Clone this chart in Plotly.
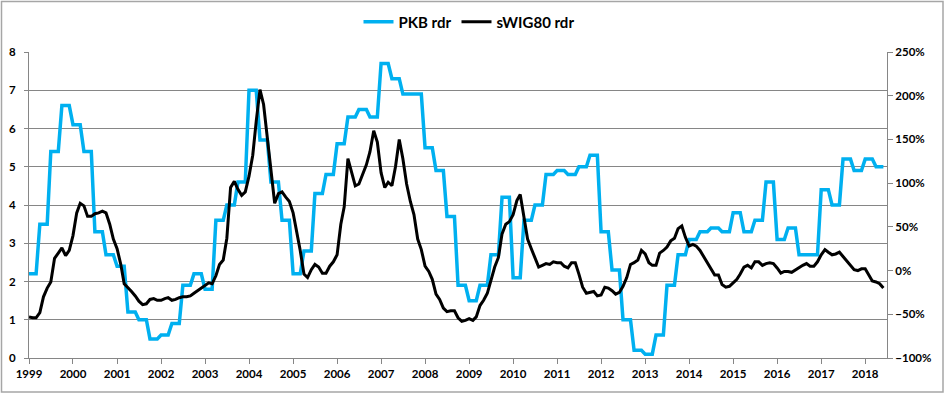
import pandas as pd
import plotly.graph_objects as go

# Quarterly GDP y/y (PKB rdr), 1999Q1 .. 2018Q2, left axis
pkb_quarterly = [
    2.2, 3.5, 5.4, 6.6,   # 1999
    6.1, 5.4, 3.3, 2.7,   # 2000
    2.4, 1.2, 1.0, 0.5,   # 2001
    0.6, 0.9, 1.9, 2.2,   # 2002
    1.8, 3.6, 4.0, 4.6,   # 2003
    7.0, 5.7, 4.6, 3.6,   # 2004
    2.2, 2.8, 4.3, 4.8,   # 2005
    5.6, 6.3, 6.5, 6.3,   # 2006
    7.7, 7.3, 6.9, 6.9,   # 2007
    5.5, 4.9, 3.7, 1.9,   # 2008
    1.5, 1.9, 2.7, 4.2,   # 2009
    2.1, 3.6, 4.0, 4.8,   # 2010
    4.9, 4.8, 5.0, 5.3,   # 2011
    3.3, 2.3, 1.0, 0.2,   # 2012
    0.1, 0.6, 1.9, 2.7,   # 2013
    3.1, 3.3, 3.4, 3.3,   # 2014
    3.8, 3.3, 3.6, 4.6,   # 2015
    3.1, 3.4, 2.7, 2.7,   # 2016
    4.4, 4.0, 5.2, 4.9,   # 2017
    5.2, 5.0,             # 2018
]

# Monthly sWIG80 y/y change in %, Jan 1999 .. Jun 2018, right axis
swig80_monthly = [
    -53, -54, -54, -48, -30, -20, -13, 14, 20, 26, 17, 23,          # 1999
    40, 66, 77, 74, 62, 62, 65, 66, 68, 66, 53, 36,                 # 2000
    25, 7, -15, -19, -24, -29, -35, -39, -38, -33, -32, -34,        # 2001
    -34, -32, -31, -34, -33, -31, -30, -30, -29, -26, -23, -21,     # 2002
    -17, -14, -15, -6, 7, 12, 37, 95, 102, 93, 86, 90,              # 2003
    108, 132, 171, 207, 190, 150, 119, 77, 88, 90, 84, 79,          # 2004
    66, 44, 23, -4, -8, 1, 7, 4, -3, -3, 5, 10,                     # 2005
    18, 53, 73, 128, 114, 97, 99, 110, 121, 136, 160, 147,          # 2006
    112, 95, 101, 97, 119, 150, 128, 99, 79, 64, 36, 24,            # 2007
    5, -1, -10, -27, -33, -43, -47, -46, -46, -54, -58, -57,        # 2008
    -55, -57, -53, -40, -34, -26, -12, 4, 15, 42, 53, 56,           # 2009
    64, 80, 87, 62, 36, 25, 14, 4, 6, 8, 7, 10,                     # 2010
    9, 9, 5, 3, 9, 9, -4, -19, -26, -25, -24, -29,                  # 2011
    -28, -19, -20, -23, -27, -25, -18, -8, 7, 9, 12, 23,            # 2012
    19, 9, 6, 6, 20, 23, 27, 34, 37, 48, 51, 38,                    # 2013
    28, 30, 28, 23, 16, 9, 3, -5, -5, -16, -19, -18,                # 2014
    -14, -10, -4, 4, 6, 3, 10, 10, 6, 8, 9, 8,                      # 2015
    3, -3, -1, -1, -2, 1, 4, 6, 8, 5, 5, 10,                        # 2016
    18, 24, 21, 18, 19, 21, 16, 11, 6, 1, 0, 2,                     # 2017
    2, -5, -12, -13, -15, -20,                                      # 2018
]

year_labels = [str(y) for y in range(1999, 2019)]

months = pd.date_range("1999-01-01", periods=len(swig80_monthly), freq="MS")
pkb_monthly = [v for v in pkb_quarterly for _ in range(3)]

BLUE = "#00B0F0"
GRID = "#868686"
FONT = "Lato"

L, R, T, B = 29, 58, 52, 40
W, H = 945, 398
PW, PH = W - L - R, H - T - B

fig = go.Figure()
fig.add_trace(go.Scatter(
    x=months, y=pkb_monthly, name="PKB rdr", mode="lines",
    line=dict(color=BLUE, width=3.5), yaxis="y",
))
fig.add_trace(go.Scatter(
    x=months, y=swig80_monthly, name="sWIG80 rdr", mode="lines",
    line=dict(color="#000000", width=3), yaxis="y2",
))

tick_font = dict(family=FONT, size=11.5, color="#000000", weight="bold")

fig.update_layout(
    width=W, height=H,
    margin=dict(l=L, r=R, t=T, b=B, autoexpand=False),
    paper_bgcolor="white", plot_bgcolor="white",
    showlegend=True,
    legend=dict(
        orientation="h", x=(469 - L) / PW, xanchor="center",
        y=(H - 22 - B) / PH, yanchor="middle",
        font=dict(family=FONT, size=15, color="#000000", weight="bold"),
        itemwidth=30, bgcolor="rgba(0,0,0,0)",
    ),
    xaxis=dict(
        type="date",
        range=["1999-01-01", "2018-07-01"],
        tickvals=[f"{y}-01-01" for y in year_labels],
        ticktext=year_labels,
        showgrid=False, showline=True, linecolor=GRID, linewidth=1,
        ticks="outside", ticklen=5, tickcolor=GRID,
        tickfont=tick_font, zeroline=False, automargin=False,
    ),
    yaxis=dict(
        range=[0, 8], dtick=1, tick0=0,
        showgrid=True, gridcolor=GRID, gridwidth=1,
        showline=True, linecolor=GRID, linewidth=1,
        ticks="outside", ticklen=4, tickcolor=GRID,
        ticklabelstandoff=6,
        tickfont=tick_font, zeroline=False, automargin=False,
    ),
    yaxis2=dict(
        range=[-100, 250], dtick=50, tick0=-100,
        overlaying="y", side="right",
        showgrid=False, showline=True, linecolor=GRID, linewidth=1,
        ticks="outside", ticklen=5, tickcolor=GRID,
        ticksuffix="%", tickfont=tick_font, zeroline=False, automargin=False,
    ),
    shapes=[dict(
        type="rect", xref="paper", yref="paper",
        x0=(1.5 - L) / PW, x1=(943 - L) / PW,
        y0=(T + PH - 392) / PH,
        y1=(T + PH - 1.5) / PH,
        line=dict(color="#A6A6A6", width=1.5),
    )],
)

fig.write_html(
    "out.html",
    config={"displayModeBar": False},
    post_script="document.body.style.margin='0';document.body.style.overflow='hidden';",
)
